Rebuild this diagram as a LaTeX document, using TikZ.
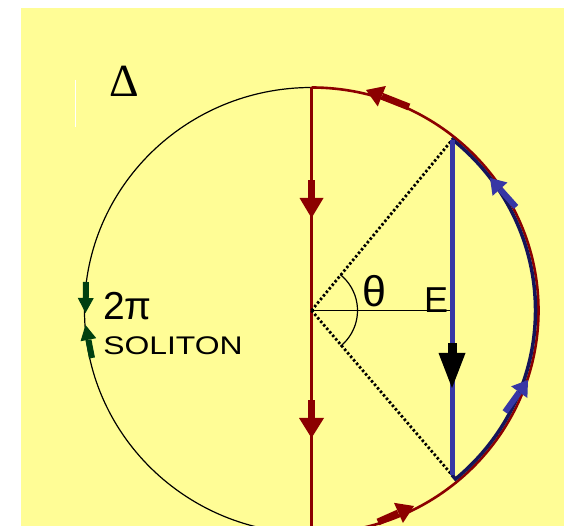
\documentclass[tikz,border=0pt]{standalone}
\usepackage{fontspec}
\usetikzlibrary{calc}
\setmainfont{Liberation Sans}
\newfontfamily\dserif{Liberation Serif}
\definecolor{bgy}{RGB}{255,253,150}
\definecolor{dred}{RGB}{140,0,0}
\definecolor{blu}{RGB}{55,55,165}
\definecolor{navyb}{RGB}{20,20,90}
\definecolor{dgreen}{RGB}{0,64,16}
% fat arrow: colour, tail x, tail y, tip x, tip y, shaft width, head width, head length
\newcommand\farrow[8]{%
  \pgfmathsetmacro\faAng{atan2(#5-#3,#4-#2)}%
  \pgfmathsetmacro\faLen{veclen(#4-#2,#5-#3)}%
  \begin{scope}[shift={(#4,#5)},rotate=\faAng]
    \fill[#1] (0,0) -- (-#8,#7/2) -- (-#8,-#7/2) -- cycle;
    \fill[#1] (-#8-0.2,-#6/2) rectangle (-\faLen,#6/2);
  \end{scope}}
\begin{document}
\begin{tikzpicture}[x=1pt,y=1pt,
  thinline/.style={black,line width=1.2pt},
  dotline/.style={black,line width=2.8pt,dash pattern=on 2.4pt off 2.2pt},
  redline/.style={dred,line width=2.6pt},
  lbl/.style={inner sep=0pt}]
\useasboundingbox (0,0) rectangle (564,526);
\clip (0,0) rectangle (564,526);
\fill[bgy] (21,0) rectangle (564,518);
\draw[white,line width=0.8pt] (75,446) -- (75,399);
\coordinate (C) at (311.5,215.5);
\coordinate (T) at (311.5,438.5);
\coordinate (B) at (311.5,-7.5);
\coordinate (P) at (452,386);
\coordinate (Q) at (452,51);
\coordinate (R) at (452,215.5);
% circle
\draw[thinline] (C) ellipse[x radius=227,y radius=223];
% red arc right half
\draw[redline] (B) arc[start angle=-90,end angle=90,x radius=227,y radius=223];
% blue arc
\draw[navyb,line width=3.5pt] (Q) -- ($(C)+(-50:224 and 220)$) arc[start angle=-50,end angle=51,x radius=224,y radius=220] -- (P);
% red vertical
\draw[redline] (T) -- (B);
% dotted lines
\draw[dotline] (C) -- (P);
\draw[dotline] (C) -- (Q);
% horizontal line and angle arc
\draw[thinline] (C) -- (R);
\draw[thinline] ($(C)+(-51:46)$) arc[start angle=-51,end angle=51,radius=46];
% blue vertical
\draw[blu,line width=5pt] (P) -- (Q);
% arrows
\farrow{dred}{311.5}{346}{311.5}{308}{7}{24}{20}
\farrow{dred}{311.5}{126}{311.5}{88}{7}{25}{20}
\farrow{dred}{409}{419}{366}{436}{7}{22}{17}
\farrow{dred}{378}{4}{414}{20}{7}{22}{17}
\farrow{blu}{516}{319}{490}{348}{6}{20}{15}
\farrow{blu}{505}{114}{528}{146}{6}{20}{15}
\farrow{black}{452}{183}{452}{138}{9}{27}{35}
\farrow{dgreen}{86}{244}{85.5}{213}{6}{16}{15}
\farrow{dgreen}{92}{168}{85.5}{201}{6}{16}{15}
% labels
\node[lbl,font=\dserif\fontsize{46}{50}\selectfont] (delta) at (124,445) {Δ};
\node[lbl,font=\fontsize{43}{46}\selectfont] (theta) at (374,234.5) {θ};
\node[lbl,anchor=base west,font=\fontsize{36}{40}\selectfont] (E) at (424,213) {E};
\node[lbl,anchor=base west,font=\fontsize{39}{42}\selectfont] (twopi) at (103,206) {2π};
\node[lbl,anchor=base west,font=\fontsize{25.5}{28}\selectfont,xscale=1.25] (sol) at (103,171) {SOLITON};
\end{tikzpicture}
\end{document}
